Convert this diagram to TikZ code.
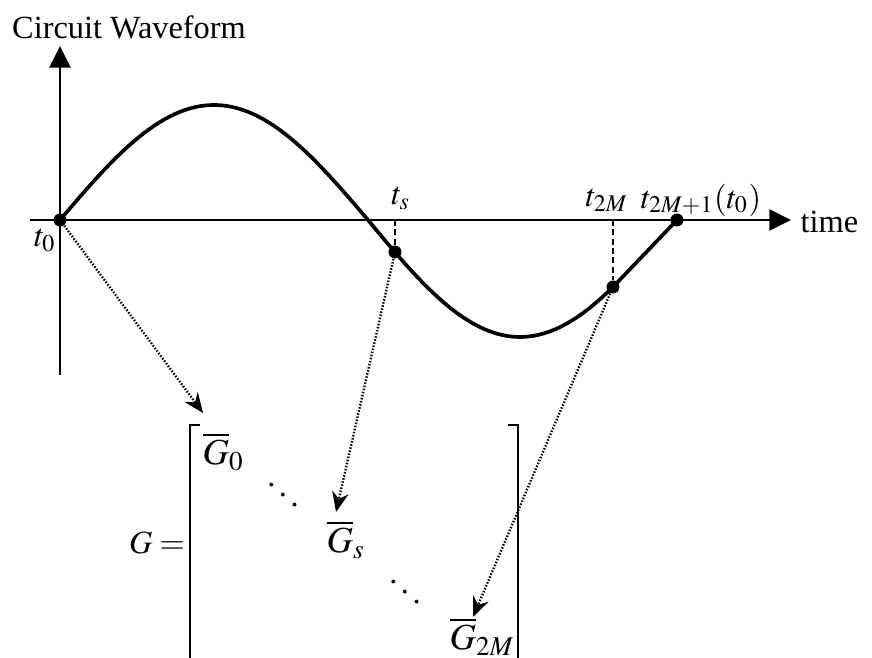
\documentclass[tikz,border=0pt]{standalone}
\usepackage{mathptmx}
\usepackage[no-math]{fontspec}
\setmainfont{Liberation Serif}
\usetikzlibrary{arrows.meta}

\tikzset{
  axis/.style={line width=0.75pt, -{Triangle[length=6.5pt, width=6.3pt]}},
  wave/.style={line width=1.1pt},
  sample/.style={circle, fill, inner sep=0pt, minimum size=3.9pt},
  link/.style={line width=0.7pt, dash pattern=on 0.45pt off 0.5pt,
    -{Stealth[length=6pt, width=5pt, inset=2pt]}},
  drop/.style={line width=0.7pt, dash pattern=on 1.8pt off 1pt},
  bracket/.style={line width=0.65pt},
  block/.style={anchor=base west, inner sep=0pt, font=\fontsize{11}{13}\selectfont},
}

\begin{document}
\begin{tikzpicture}[x=0.3pt, y=-0.3pt, font=\fontsize{9.7}{11.6}\selectfont]
  \useasboundingbox (0,0) rectangle (872,658);

  % Axes
  \coordinate (ybot) at (60,375);
  \coordinate (ytop) at (60,46);
  \coordinate (xleft) at (30,220);
  \coordinate (xright) at (791,220);
  \draw[axis] (ybot) -- (ytop);
  \draw[axis] (xleft) -- (xright);
  \node (ylabel) at (129,27) {Circuit Waveform};
  \node[right, inner sep=0pt] (xlabel) at (800,222) {time};

  % Sample points on the waveform
  \node[sample] (p0) at (60,220) {};
  \node[sample] (ps) at (395,252) {};
  \node[sample] (p2M) at (613,287) {};
  \node[sample] (pend) at (677,220) {};

  % Waveform
  \draw[wave] plot[domain=60:368, samples=60] (\x,{220-115*sin((\x-60)/308*180)})
    -- plot[domain=368:613, samples=50] (\x,{220+117*sin((\x-368)/304*180)})
    -- (pend.center);

  % Drop lines to the time axis
  \draw[drop] (ps.center |- xleft) -- (ps);
  \draw[drop] (p2M.center |- xleft) -- (p2M);

  % Time labels
  \node (lt0) at (45,240) {$t_0$};
  \node (lts) at (401,198) {$t_s$};
  \node (lt2M) at (607,200) {$t_{2M}$};
  \node (lt2M1) at (701,200) {$t_{2M+1}(t_0)$};

  % Block diagonal matrix
  \node (Geq) at (157,543) {$G =$};
  \node[block] (G0) at (202,465) {$\overline{G}_0$};
  \node (dots1) at (283,485) {$\ddots$};
  \node[block] (Gs) at (326,553) {$\overline{G}_s$};
  \node (dots2) at (405,582) {$\ddots$};
  \node[block] (G2M) at (449,650) {$\overline{G}_{2M}$};
  \draw[bracket] (200,425) -- (190,425) -- (190,680);
  \draw[bracket] (508,425) -- (518,425) -- (518,680);

  % Links from samples to blocks
  \coordinate (a0) at (203,413);
  \coordinate (as) at (336,512);
  \coordinate (a2M) at (473,617);
  \draw[link] (p0) -- (a0);
  \draw[link] (ps) -- (as);
  \draw[link] (p2M) -- (a2M);
\end{tikzpicture}
\end{document}
